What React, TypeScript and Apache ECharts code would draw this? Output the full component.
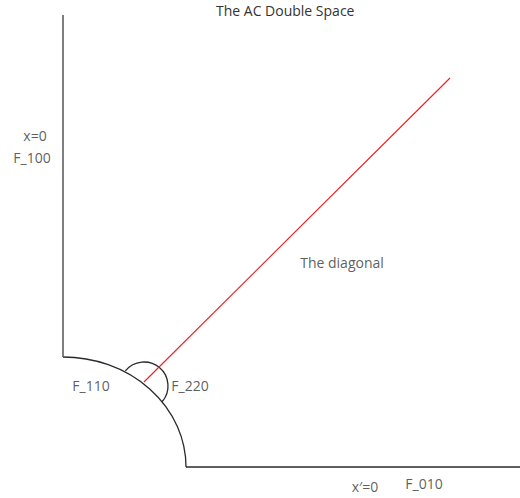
import React, { useEffect, useRef } from "react";
import * as echarts from "echarts";

// Diagram coordinates: origin at the corner where x=0 meets x'=0
const titleText = "The AC Double Space";
const verticalEdge: number[][] = [[0, 110], [0, 452]];
const horizontalEdge: number[][] = [[123, 0], [457, 0]];
const boundaryRadii: number[] = [123, 110];
const diagonal: number[][] = [[81, 85], [387, 389]];
const angleMarkCenter: number[] = [81, 81];
const angleMarkRadius = 24;
const angleMarkDegrees: number[] = [219, 401];
const labelTexts: string[] = ["x=0", "F_100", "The diagonal", "F_110", "F_220", "x\u2032=0", "F_010"];
const labelPositions: number[][] = [[-28, 332], [-31, 310], [279, 205], [28, 82], [127, 82], [302, -19], [361, -16]];

const FONT = "'Open Sans', 'Noto Sans', sans-serif";
const TEXT = "#333";
const STROKE = "#2a2a2a";

export default function App() {
  const ref = useRef<HTMLDivElement>(null);
  useEffect(() => {
    if (!ref.current) return;
    const chart = echarts.init(ref.current, undefined, { renderer: "svg" });
    const lineSeries = (data: number[][], color: string, width: number) => ({
      type: "line",
      data,
      symbol: "none",
      silent: true,
      lineStyle: { color, width },
      emphasis: { disabled: true },
    });
    chart.setOption({
      animation: false,
      title: {
        text: titleText,
        left: 216,
        top: 3,
        padding: 0,
        textStyle: { fontFamily: FONT, fontSize: 14, fontWeight: "normal", color: TEXT },
      },
      grid: { left: 0, right: 0, top: 0, bottom: 0 },
      xAxis: { type: "value", min: -63, max: 457, show: false },
      yAxis: { type: "value", min: -31, max: 467, show: false },
      series: [
        lineSeries(verticalEdge, "#555", 1.5),
        lineSeries(horizontalEdge, STROKE, 1.3),
        lineSeries(diagonal, "#ee1c1c", 1.1),
        {
          type: "custom",
          silent: true,
          data: [[0, 0]],
          renderItem: (_params: any, api: any) => {
            const c = api.coord([0, 0]);
            const p = api.coord(boundaryRadii);
            const rx = p[0] - c[0];
            const ry = c[1] - p[1];
            return {
              type: "path",
              shape: {
                pathData: `M ${c[0]} ${c[1] - ry} A ${rx} ${ry} 0 0 1 ${c[0] + rx} ${c[1]}`,
              },
              style: { fill: "none", stroke: STROKE, lineWidth: 1.3 },
            };
          },
        },
        {
          type: "custom",
          silent: true,
          data: [angleMarkCenter],
          renderItem: (_params: any, api: any) => {
            const c = api.coord(angleMarkCenter);
            return {
              type: "arc",
              shape: {
                cx: c[0],
                cy: c[1],
                r: angleMarkRadius,
                startAngle: (angleMarkDegrees[0] * Math.PI) / 180,
                endAngle: (angleMarkDegrees[1] * Math.PI) / 180,
                clockwise: true,
              },
              style: { fill: "none", stroke: STROKE, lineWidth: 1.3 },
            };
          },
        },
        {
          type: "scatter",
          silent: true,
          symbolSize: 1,
          itemStyle: { color: "rgba(0,0,0,0)" },
          data: labelTexts.map((t, i) => ({ value: labelPositions[i], name: t })),
          label: {
            show: true,
            position: "inside",
            formatter: (p: any) => p.name,
            fontFamily: FONT,
            fontSize: 14,
            color: TEXT,
            align: "center",
            verticalAlign: "middle",
          },
        },
      ],
    });
    return () => chart.dispose();
  }, []);
  return (
    <div
      ref={ref}
      style={{ position: "fixed", left: 0, top: 0, width: 520, height: 498, background: "#fff" }}
    />
  );
}
